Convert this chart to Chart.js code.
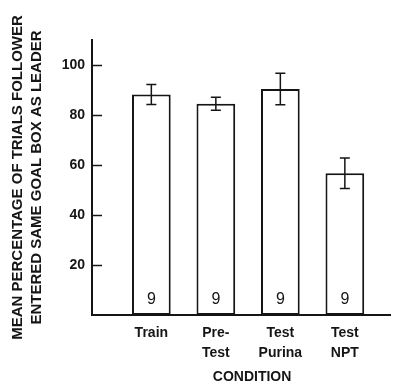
<!DOCTYPE html>
<html>
<head>
<meta charset="utf-8">
<script src="https://cdn.jsdelivr.net/npm/chart.js@4"></script>
<style>
  html, body { margin: 0; padding: 0; background: #fff; }
  #wrap { width: 398px; height: 384px; }
</style>
</head>
<body>
<div id="wrap"><canvas id="condChart"></canvas></div>
<script>
// datos
const conditions = [['Train'], ['Pre-', 'Test'], ['Test', 'Purina'], ['Test', 'NPT']];
const positions = [1, 2, 3, 4];
const meanPct = [88.2, 84.5, 90.4, 56.7];
const semPct = [4, 2.6, 6.3, 6.1];
const nRats = [9, 9, 9, 9];
const yTicks = [20, 40, 60, 80, 100];
const xTitle = 'CONDITION';

const ink = '#151515';
const fontFam = '"Liberation Sans", Arial, Helvetica, sans-serif';

// barras de error, n dentro de cada barra, marcas hacia dentro y titulo del eje x
const extras = {
  id: 'extras',
  afterDatasetsDraw(chart) {
    const ctx = chart.ctx;
    const xs = chart.scales.x;
    const ys = chart.scales.y;
    ctx.save();
    ctx.strokeStyle = ink;
    ctx.fillStyle = ink;

    // marcas del eje y
    ctx.lineWidth = 1.5;
    yTicks.forEach(v => {
      const py = Math.round(ys.getPixelForValue(v)) + 0.5;
      ctx.beginPath();
      ctx.moveTo(xs.left, py);
      ctx.lineTo(xs.left + 10, py);
      ctx.stroke();
    });

    positions.forEach((p, i) => {
      const px = xs.getPixelForValue(p);
      const top = ys.getPixelForValue(meanPct[i] + semPct[i]);
      const bot = ys.getPixelForValue(meanPct[i] - semPct[i]);
      ctx.lineWidth = 1.5;
      ctx.beginPath();
      ctx.moveTo(px, top); ctx.lineTo(px, bot);
      ctx.moveTo(px - 5, top); ctx.lineTo(px + 5, top);
      ctx.moveTo(px - 5, bot); ctx.lineTo(px + 5, bot);
      ctx.stroke();

      ctx.font = '16px ' + fontFam;
      ctx.textAlign = 'center';
      ctx.textBaseline = 'middle';
      ctx.fillText(String(nRats[i]), px, ys.getPixelForValue(6));
    });

    const mid = (xs.getPixelForValue(positions[0]) + xs.getPixelForValue(positions[positions.length - 1])) / 2;
    ctx.font = 'bold 14px ' + fontFam;
    ctx.textAlign = 'center';
    ctx.textBaseline = 'middle';
    ctx.fillText(xTitle, mid + 4, 377);
    ctx.restore();
  }
};

const ctx = document.getElementById('condChart').getContext('2d');
new Chart(ctx, {
  type: 'bar',
  data: {
    datasets: [{
      data: positions.map((p, i) => ({ x: p, y: meanPct[i] })),
      backgroundColor: '#fff',
      borderColor: ink,
      borderWidth: 2,
      borderSkipped: false,
      barPercentage: 0.6,
      categoryPercentage: 1
    }]
  },
  options: {
    responsive: true,
    maintainAspectRatio: false,
    animation: false,
    layout: { padding: { top: 40, right: 8, left: 0, bottom: 0 } },
    plugins: { legend: { display: false }, tooltip: { enabled: false } },
    scales: {
      x: {
        type: 'linear',
        offset: false,
        min: 0.08,
        max: 4.7,
        afterBuildTicks: s => { s.ticks = positions.map(v => ({ value: v })); },
        afterFit: s => { s.height = 69; },
        grid: { display: true, drawOnChartArea: false, drawTicks: false, offset: false },
        border: { color: ink, width: 2 },
        ticks: {
          autoSkip: false,
          maxRotation: 0,
          padding: 8,
          color: ink,
          font: { family: fontFam, size: 14, weight: 'bold', lineHeight: 1.45 },
          callback: v => conditions[positions.indexOf(v)] || ''
        }
      },
      y: {
        min: 0,
        max: 110,
        afterBuildTicks: s => { s.ticks = yTicks.map(v => ({ value: v })); },
        afterFit: s => { s.width = 92; },
        grid: { display: true, drawOnChartArea: false, drawTicks: false },
        border: { color: ink, width: 2 },
        ticks: {
          padding: 7,
          color: ink,
          font: { family: fontFam, size: 14, weight: 'bold' }
        },
        title: {
          display: true,
          text: ['MEAN PERCENTAGE OF TRIALS FOLLOWER', 'ENTERED SAME GOAL BOX AS LEADER'],
          color: ink,
          padding: { top: 8, bottom: 0 },
          font: { family: fontFam, size: 15, weight: 'bold', lineHeight: 1.27 }
        }
      }
    }
  },
  plugins: [extras]
});
</script>
</body>
</html>
